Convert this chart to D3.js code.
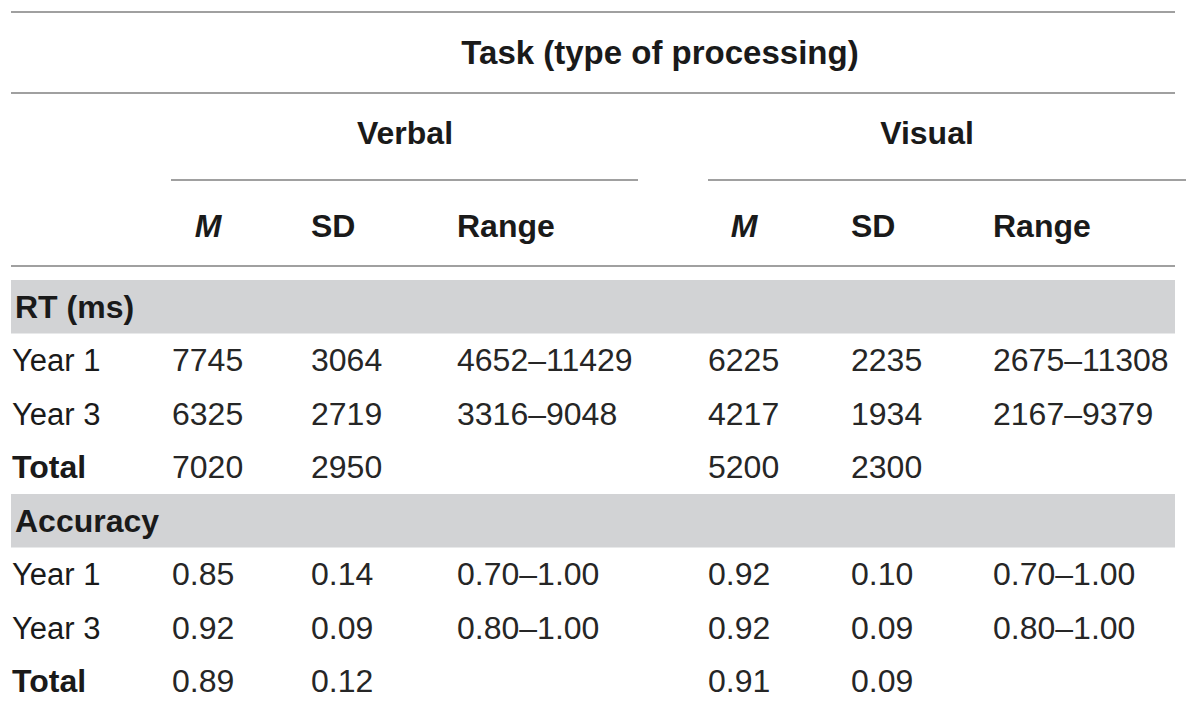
<!DOCTYPE html>
<html>
<head>
<meta charset="utf-8">
<script src="https://cdn.jsdelivr.net/npm/d3@7"></script>
<style>
  body { margin: 0; background: #fff; }
  text { font-family: "Liberation Sans", Arial, Helvetica, sans-serif; fill: #1a1a1a; }
</style>
</head>
<body>
<script>
// table content
var title = "Task (type of processing)";
var groups = ["Verbal", "Visual"];
var columns = ["M", "SD", "Range"];
var sections = ["RT (ms)", "Accuracy"];
var rowLabels = ["Year 1", "Year 3", "Total"];

// RT (ms)
var rtVerbalM = ["7745", "6325", "7020"];
var rtVerbalSD = ["3064", "2719", "2950"];
var rtVerbalRange = ["4652–11429", "3316–9048", ""];
var rtVisualM = ["6225", "4217", "5200"];
var rtVisualSD = ["2235", "1934", "2300"];
var rtVisualRange = ["2675–11308", "2167–9379", ""];

// Accuracy
var accVerbalM = ["0.85", "0.92", "0.89"];
var accVerbalSD = ["0.14", "0.09", "0.12"];
var accVerbalRange = ["0.70–1.00", "0.80–1.00", ""];
var accVisualM = ["0.92", "0.92", "0.91"];
var accVisualSD = ["0.10", "0.09", "0.09"];
var accVisualRange = ["0.70–1.00", "0.80–1.00", ""];

var width = 1200;
var height = 706;
var left = 11, right = 1175;
var fontSize = 32;
var lineColor = "#a0a0a0";

var svg = d3.select("body").append("svg")
  .attr("width", width)
  .attr("height", height);

// column positions (left edge of text)
var colKeys = ["label", "Verbal-M", "Verbal-SD", "Verbal-Range", "Visual-M", "Visual-SD", "Visual-Range"];
var x = d3.scaleOrdinal()
  .domain(colKeys)
  .range([12, 172, 311, 457, 708, 851, 993]);

// build body rows from the arrays
var sectionData = [
  [rtVerbalM, rtVerbalSD, rtVerbalRange, rtVisualM, rtVisualSD, rtVisualRange],
  [accVerbalM, accVerbalSD, accVerbalRange, accVisualM, accVisualSD, accVisualRange]
];
var bodyRows = [];
sections.forEach(function (s, si) {
  bodyRows.push({ type: "section", label: s });
  rowLabels.forEach(function (r, ri) {
    var cells = sectionData[si].map(function (arr) { return arr[ri]; });
    bodyRows.push({ type: "data", label: r, bold: r === "Total", cells: cells });
  });
});

var y = d3.scaleBand()
  .domain(d3.range(bodyRows.length))
  .range([280, 280 + 53.5 * bodyRows.length]);

// header lines
function hline(x1, x2, yy) {
  svg.append("line")
    .attr("x1", x1).attr("x2", x2)
    .attr("y1", yy).attr("y2", yy)
    .style("stroke", lineColor)
    .style("stroke-width", 2);
}
hline(left, right, 12);
hline(left, right, 93);
hline(171, 638, 180);
hline(708, 1186, 180);
hline(left, right, 266);

// title
svg.append("text")
  .attr("x", 660)
  .attr("y", 52)
  .attr("dy", "0.35em")
  .attr("text-anchor", "middle")
  .style("font-size", "33px")
  .style("font-weight", "bold")
  .text(title);

// group titles
var groupX = d3.scaleOrdinal().domain(groups).range([405, 927]);
svg.selectAll(".group")
  .data(groups)
  .enter().append("text")
  .attr("class", "group")
  .attr("x", function (d) { return groupX(d); })
  .attr("y", 133)
  .attr("dy", "0.35em")
  .attr("text-anchor", "middle")
  .style("font-size", fontSize + "px")
  .style("font-weight", "bold")
  .text(function (d) { return d; });

// column headers
var headers = [];
groups.forEach(function (g) {
  columns.forEach(function (c) { headers.push({ key: g + "-" + c, label: c }); });
});
svg.selectAll(".colhead")
  .data(headers)
  .enter().append("text")
  .attr("class", "colhead")
  .attr("x", function (d) { return d.label === "M" ? x(d.key) + 36 : x(d.key); })
  .attr("y", 226)
  .attr("dy", "0.35em")
  .attr("text-anchor", function (d) { return d.label === "M" ? "middle" : "start"; })
  .style("font-size", fontSize + "px")
  .style("font-weight", "bold")
  .style("font-style", function (d) { return d.label === "M" ? "italic" : "normal"; })
  .text(function (d) { return d.label; });

// body
var rows = svg.selectAll(".row")
  .data(bodyRows)
  .enter().append("g")
  .attr("class", "row")
  .attr("transform", function (d, i) { return "translate(0," + y(i) + ")"; });

rows.filter(function (d) { return d.type === "section"; })
  .append("rect")
  .attr("x", left)
  .attr("y", 0)
  .attr("width", right - left)
  .attr("height", y.bandwidth())
  .style("fill", "#d2d3d5");

rows.append("text")
  .attr("x", function (d) { return d.type === "section" ? 15 : x("label"); })
  .attr("y", y.bandwidth() / 2)
  .attr("dy", "0.35em")
  .style("font-size", function (d) { return d.type === "data" && !d.bold ? "31px" : fontSize + "px"; })
  .style("font-weight", function (d) { return d.type === "section" || d.bold ? "bold" : "normal"; })
  .text(function (d) { return d.label; });

rows.filter(function (d) { return d.type === "data"; })
  .selectAll(".cell")
  .data(function (d) { return d.cells; })
  .enter().append("text")
  .attr("class", "cell")
  .attr("x", function (d, i) { return x(colKeys[i + 1]); })
  .attr("y", y.bandwidth() / 2)
  .attr("dy", "0.35em")
  .style("font-size", fontSize + "px")
  .style("fill", "#262626")
  .text(function (d) { return d; });
</script>
</body>
</html>
